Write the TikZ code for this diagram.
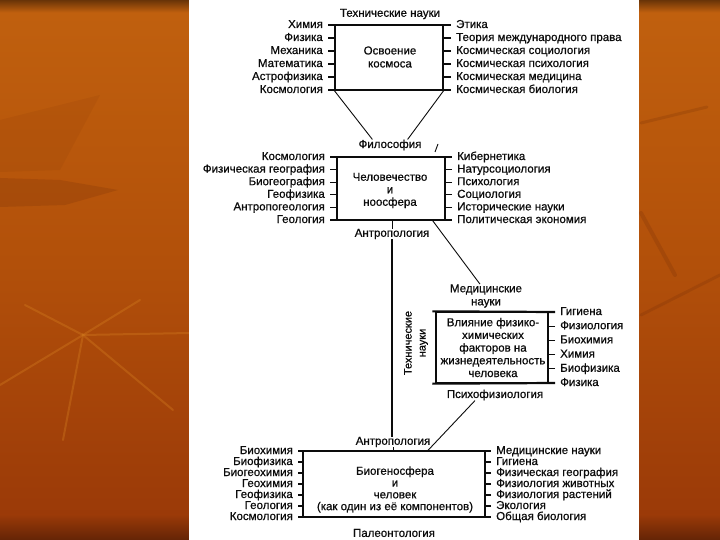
\documentclass[tikz,border=0pt]{standalone}
\usepackage{fontspec}
\setmainfont{Liberation Sans}[FakeBold=0.7]
\definecolor{bgA}{RGB}{105,52,8}
\definecolor{bgB}{RGB}{192,96,14}
\definecolor{bgC}{RGB}{178,80,10}
\definecolor{bgD}{RGB}{155,58,8}
\definecolor{bgE}{RGB}{100,36,6}
\definecolor{bgL}{RGB}{214,128,32}
\definecolor{ink}{RGB}{12,12,12}
\begin{document}
\begin{tikzpicture}[x=1pt,y=-1pt,
  fnt/.style={font=\fontsize{11.5}{13}\selectfont, text=ink},
  ll/.style={fnt, anchor=east, inner ysep=0pt, inner xsep=5pt, text height=8pt, text depth=2pt},
  rl/.style={fnt, anchor=west, inner ysep=0pt, inner xsep=5pt, text height=8pt, text depth=2pt},
  ttl/.style={fnt, inner sep=0pt, align=center},
  boxtxt/.style={inner sep=0pt, align=center, text=ink},
  boxs/.style={draw=ink, line width=1.3pt, inner sep=0pt},
  bar/.style={draw=ink, line width=2.2pt},
  tick/.style={draw=ink, line width=1.3pt},
  conn/.style={draw=ink, line width=0.9pt}]
\useasboundingbox (0,0) rectangle (720,540);
% background
\shade[top color=bgB, bottom color=bgD, middle color=bgC] (0,12) rectangle (720,515);
\shade[top color=bgA, bottom color=bgB] (0,0) rectangle (720,12.5);
\shade[top color=bgD, bottom color=bgE] (0,514.5) rectangle (720,540);
\fill[bgE, opacity=0.08] (0,120) -- (100,95) -- (60,170) -- (0,172) -- cycle;
\fill[bgE, opacity=0.18] (0,178) -- (60,180) -- (118,190) -- (65,205) -- (0,207) -- cycle;
\begin{scope}[draw=bgL, opacity=0.35, line width=2pt, line cap=round]
  \draw (25,305) -- (83,335) -- (140,300);
  \draw (0,385) -- (83,335) -- (190,333);
  \draw (63,440) -- (83,335) -- (173,410);
\end{scope}
\begin{scope}[draw=bgE, opacity=0.18, line cap=round]
  \draw[line width=4pt] (641,213) -- (675,275);
  \draw[line width=3pt] (641,315) -- (720,275);
  \draw[line width=3pt] (641,123) -- (707,107);
\end{scope}
% white panel
\fill[white] (189,0) rectangle (639,540);

% ---------- box 1 ----------
\node[boxs, minimum width=108pt, minimum height=65pt] (b1) at (389,57.5) {};
\node[boxtxt, font=\fontsize{11.5}{13}\selectfont] (b1t) at (390,57) {Освоение\\космоса};
\foreach \t [count=\i] in {Химия,Физика,Механика,Математика,Астрофизика,Космология}
  \node[ll] (p\i) at (328,{25+13*(\i-1)}) {\t};
\foreach \t [count=\i] in {Этика,Теория международного права,Космическая социология,Космическая психология,Космическая медицина,Космическая биология}
  \node[rl] (q\i) at (451,{25+13*(\i-1)}) {\t};
\draw[bar] (p1.east) -- (q1.west);
\draw[bar] (p6.east) -- (q6.west);
\foreach \i in {2,...,5} {
  \draw[tick] (p\i.east) -- (p\i.east -| b1.west);
  \draw[tick] (q\i.west) -- (q\i.west -| b1.east);
}
\node[ttl] (tn) at (390,14) {Технические науки};
\node[ttl] (ph) at (390,145) {Философия};
\draw[conn] (b1.south west) -- ([xshift=14pt]ph.north west);
\draw[conn] (b1.south east) -- ([xshift=-14pt]ph.north east);
\coordinate (sla) at (435,152);
\coordinate (slb) at (438,144);
\draw[conn] (sla) -- (slb);

% ---------- box 2 ----------
\node[boxs, minimum width=108pt, minimum height=63pt] (b2) at (391,188.5) {};
\node[boxtxt, font=\fontsize{11.5}{12.5}\selectfont] (b2t) at (390,190.5) {Человечество\\и\\ноосфера};
\foreach \t [count=\i] in {Космология,Физическая география,Биогеография,Геофизика,Антропогеология,Геология}
  \node[ll] (u\i) at (330,{157+12.6*(\i-1)}) {\t};
\foreach \t [count=\i] in {Кибернетика,Натурсоциология,Психология,Социология,Исторические науки,Политическая экономия}
  \node[rl] (v\i) at (452,{157+12.6*(\i-1)}) {\t};
\draw[bar] (u1.east) -- (v1.west);
\draw[bar] (u6.east) -- (v6.west);
\foreach \i in {2,...,5} {
  \draw[tick] (u\i.east) -- (u\i.east -| b2.west);
  \draw[tick] (v\i.west) -- (v\i.west -| b2.east);
}
\node[ttl] (an1) at (392,234) {Антропология};

% ---------- box 3 ----------
\node[ttl] (md) at (486,296) {Медицинские\\науки};
\node[boxs, minimum width=112pt, minimum height=71pt] (b3) at (492,347.5) {};
\node[boxtxt, font=\fontsize{11.5}{12.7}\selectfont] (b3t) at (493,347.5) {Влияние физико-\\химических\\факторов на\\жизнедеятельность\\человека};
\foreach \t [count=\i] in {Гигиена,Физиология,Биохимия,Химия,Биофизика,Физика}
  \node[rl] (r\i) at (555,{312+14.2*(\i-1)}) {\t};
\draw[bar] ([xshift=-3pt]b3.north west) -- (r1.west);
\draw[bar] ([xshift=-3pt]b3.south west) -- (r6.west);
\foreach \i in {2,...,5}
  \draw[tick] (r\i.west) -- (r\i.west -| b3.east);
\node[ttl, rotate=90, font=\fontsize{11}{14}\selectfont] (tv) at (416,343) {Технические\\науки};
\node[ttl] (ps) at (495,395) {Психофизиология};
\draw[conn] ([xshift=-13pt]b2.south east) -- ([xshift=-6pt]md.north);

% ---------- box 4 ----------
\node[ttl] (an2) at (393,442) {Антропология};
\node[boxs, minimum width=182pt, minimum height=66pt] (b4) at (394,484) {};
\node[boxtxt, font=\fontsize{11.5}{11.8}\selectfont] (b4t) at (395,489.5) {Биогеносфера\\и\\человек\\(как один из её компонентов)};
\foreach \t [count=\i] in {Биохимия,Биофизика,Биогеохимия,Геохимия,Геофизика,Геология,Космология}
  \node[ll] (s\i) at (298,{451+11*(\i-1)}) {\t};
\foreach \t [count=\i] in {Медицинские науки,Гигиена,Физическая география,Физиология животных,Физиология растений,Экология,Общая биология}
  \node[rl] (t\i) at (491,{451+11*(\i-1)}) {\t};
\draw[bar] (s1.east) -- (t1.west);
\draw[bar] (s7.east) -- (t7.west);
\foreach \i in {2,...,6} {
  \draw[tick] (s\i.east) -- (s\i.east -| b4.west);
  \draw[tick] (t\i.west) -- (t\i.west -| b4.east);
}
\node[ttl] (pl) at (394,533) {Палеонтология};

% ---------- vertical and diagonal connectors ----------
\draw[conn, line width=1.2pt] (an1.south) -- (an1.south |- an2.north);
\draw[conn] (an1.north) -- (an1.north |- b2.south);
\draw[conn] (an2.south) -- (an2.south |- b4.north);
\draw[conn] ([xshift=-20pt]ps.south) -- ([xshift=34pt]b4.north);
\end{tikzpicture}
\end{document}
